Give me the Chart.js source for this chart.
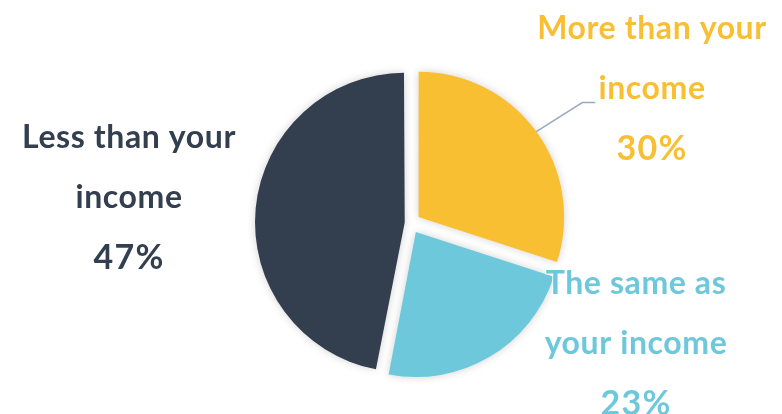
<!DOCTYPE html>
<html>
<head>
<meta charset="utf-8">
<script src="https://cdn.jsdelivr.net/npm/chart.js@4"></script>
<style>
  html, body { margin: 0; padding: 0; background: #fff; }
  #wrap { width: 782px; height: 414px; }
</style>
</head>
<body>
<div id="wrap"><canvas id="chart-pie" width="782" height="414"></canvas></div>
<script>
var categories = ['More than your income', 'The same as your income', 'Less than your income'];
var shares = [30, 23, 47];
var colours = ['#F8BF33', '#6DC8DB', '#333F4F'];

// label lines, one block per slice; the last line is the share
var labelLines = [
    ['More than your', 'income'],
    ['The same as', 'your income'],
    ['Less than your', 'income']
];
// centre of first text line for each block, spacing between lines
var labelPos = [[652, 29], [636, 284], [129, 138]];
var lineGap = 60;

// Chart.js moves an arc by offset/4 * (1 + fix); pick offsets so each slice shifts ~10.5px
var sliceOffset = [40, 41.8, 23.2];

function shift(arc, off) {
    var fix = 1 - Math.sin(Math.min(Math.PI, arc.circumference || 0));
    return off / 4 * (1 + fix);
}

var shadowPlugin = {
    id: 'sliceShadow',
    beforeDatasetsDraw: function(chart) {
        var ctx = chart.ctx;
        ctx.save();
        ctx.shadowColor = 'rgba(0,0,0,0.18)';
        ctx.shadowBlur = 8;
    },
    afterDatasetsDraw: function(chart) {
        chart.ctx.restore();
    }
};

var labelPlugin = {
    id: 'sliceLabels',
    afterDatasetsDraw: function(chart) {
        var ctx = chart.ctx;
        var arcs = chart.getDatasetMeta(0).data;

        // connector for the yellow slice, from its rim at mid angle
        var a = arcs[0];
        var mid = (a.startAngle + a.endAngle) / 2;
        var off = shift(a, sliceOffset[0]);
        var sx = a.x + Math.cos(mid) * (off + a.outerRadius);
        var sy = a.y + Math.sin(mid) * (off + a.outerRadius);
        ctx.save();
        ctx.strokeStyle = '#9AAABB';
        ctx.lineWidth = 1.5;
        ctx.beginPath();
        ctx.moveTo(sx, sy);
        ctx.lineTo(sx + 46, sy - 29);
        ctx.lineTo(sx + 59, sy - 29);
        ctx.stroke();

        ctx.textAlign = 'center';
        ctx.textBaseline = 'middle';
        ctx.lineJoin = 'round';
        function put(t, x, y, c) {
            ctx.strokeStyle = 'rgba(255,255,255,0.8)';
            ctx.lineWidth = 2;
            ctx.strokeText(t, x, y);
            ctx.fillStyle = c;
            ctx.fillText(t, x, y);
        }
        labelLines.forEach(function(lines, i) {
            var x = labelPos[i][0];
            ctx.font = 'bold 32px Lato';
            ctx.letterSpacing = '0.6px';
            lines.forEach(function(t, j) {
                put(t, x, labelPos[i][1] + j * lineGap, colours[i]);
            });
            ctx.font = 'bold 34px Lato';
            ctx.letterSpacing = '1.2px';
            put(shares[i] + '%', x, labelPos[i][1] + lines.length * lineGap, colours[i]);
        });
        ctx.restore();
    }
};

const ctx = document.getElementById('chart-pie').getContext('2d');
const myChart = new Chart(ctx, {
    type: 'pie',
    data: {
        labels: categories,
        datasets: [{
            data: shares,
            backgroundColor: colours,
            borderWidth: 0,
            offset: sliceOffset
        }]
    },
    options: {
        responsive: false,
        animation: false,
        radius: 145,
        layout: {
            padding: { left: 39, right: 0, top: 32, bottom: 0 }
        },
        plugins: {
            legend: { display: false },
            tooltip: { enabled: false }
        }
    },
    plugins: [shadowPlugin, labelPlugin]
});
</script>
</body>
</html>
